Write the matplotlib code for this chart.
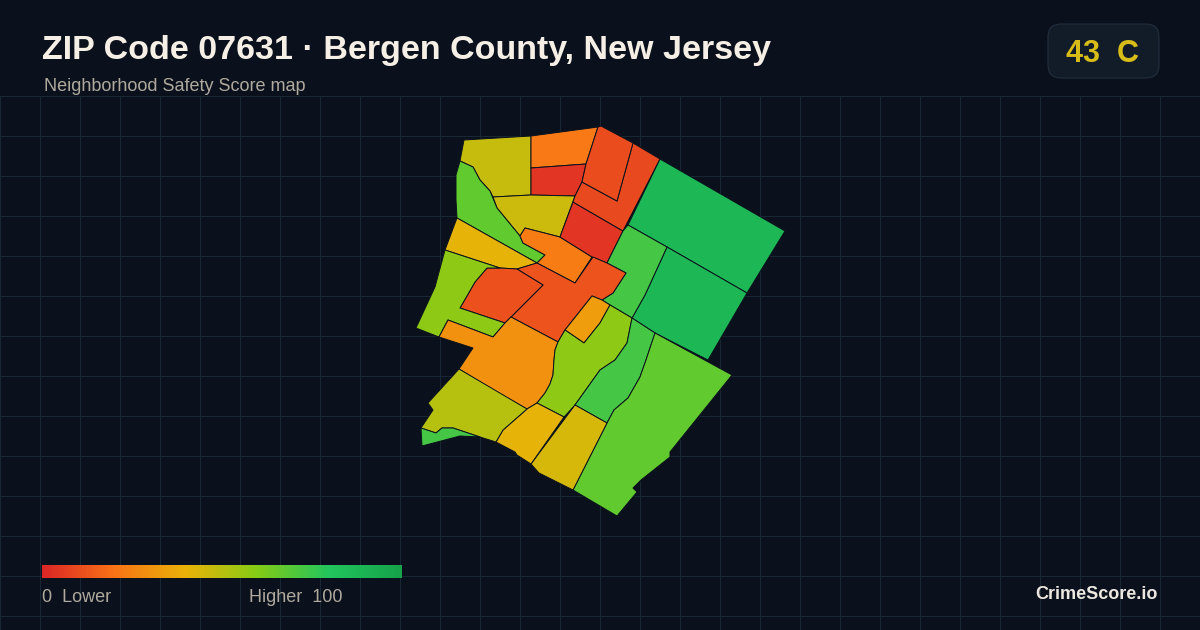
import numpy as np
import matplotlib
matplotlib.use('Agg')
import matplotlib.pyplot as plt
from matplotlib.collections import PolyCollection
from matplotlib.colors import LinearSegmentedColormap
from matplotlib.patches import FancyBboxPatch

plt.rcParams['font.family'] = ['Liberation Sans', 'DejaVu Sans']

# tract outlines (pixel positions of the map)
tract_shapes = [
    [(464,140),(531,136),(531,195),(493,197),(490,191),(480,180),(473,167),(460,161)],
    [(531,136),(598,127),(586,164),(531,168)],
    [(531,168),(586,164),(582,182),(575,196),(531,195)],
    [(493,197),(531,195),(575,196),(560,237),(525,228),(520,236),(497,208)],
    [(460,161),(473,167),(480,180),(490,191),(497,208),(520,236),(523,243),(545,255),(537,263),(457,218),(456,200),(456,175)],
    [(457,218),(537,263),(517,269),(500,268),(445,250)],
    [(525,228),(560,237),(592,257),(575,283),(537,263),(545,255),(523,243),(520,236)],
    [(573,202),(623,231),(607,263),(592,257),(560,237)],
    [(582,182),(617,201),(633,143),(660,159),(623,231),(573,202),(575,196)],
    [(601,126),(633,143),(617,201),(582,182),(586,164),(598,127)],
    [(660,159),(785,231),(747,293),(667,247),(628,225)],
    [(667,247),(747,293),(708,360),(655,333),(632,318),(645,295)],
    [(623,231),(628,225),(667,247),(645,295),(632,318),(610,305),(602,300),(613,293),(626,273),(607,263)],
    [(517,269),(537,263),(575,283),(593,257),(607,263),(626,273),(613,293),(602,300),(592,296),(565,330),(558,342),(511,317),(543,285)],
    [(487,268),(500,268),(517,269),(543,285),(505,323),(460,308),(475,282)],
    [(445,250),(500,268),(487,268),(475,282),(460,308),(505,323),(493,337),(448,320),(439,337),(416,328),(435,287)],
    [(439,337),(448,320),(493,337),(505,323),(511,317),(558,342),(555,350),(554,360),(553,375),(550,384),(545,393),(537,403),(527,409),(493,390),(459,369),(473,348)],
    [(592,296),(602,300),(610,305),(600,323),(584,343),(565,330)],
    [(565,330),(584,343),(600,323),(610,305),(632,318),(627,343),(615,360),(600,370),(575,405),(564,417),(537,403),(545,393),(550,384),(553,375),(554,360),(555,350),(558,342)],
    [(632,318),(655,333),(646,360),(640,377),(628,398),(614,410),(607,423),(575,405),(600,370),(615,360),(627,343)],
    [(655,333),(732,375),(670,452),(670,457),(641,480),(633,488),(637,492),(617,516),(573,490),(607,423),(614,410),(628,398),(640,377),(646,360)],
    [(575,405),(607,423),(573,490),(539,473),(531,464)],
    [(537,403),(564,417),(531,464),(517,455),(515,452),(496,442),(503,430),(527,409)],
    [(459,369),(527,409),(503,430),(496,442),(480,437),(453,428),(442,428),(436,433),(421,428),(433,410),(428,403)],
    [(421,428),(436,433),(442,428),(453,428),(480,437),(460,436),(422,446)],
]
tract_scores = [47, 22, 4, 46, 67, 41, 23, 4, 9, 10, 88, 88, 73, 12, 11, 58, 29, 33, 58, 73, 67, 44, 41, 50, 73]

score_stops = [0.0, 0.2, 0.4, 0.6, 0.8, 1.0]
stop_colors = ['#dc2626', '#f97316', '#eab308', '#84cc16', '#22c55e', '#16a34a']

grid_x = np.arange(0, 1201, 40)
grid_y = np.arange(96, 617, 40)

cmap = LinearSegmentedColormap.from_list('safety', list(zip(score_stops, stop_colors)))

fig = plt.figure(figsize=(12, 6.3), dpi=100, facecolor='#0a111c')
ax = fig.add_axes([0, 0, 1, (630 - 96) / 630])
ax.set_facecolor('#0a111c')
for s in ax.spines.values():
    s.set_visible(False)

pc = PolyCollection(tract_shapes, array=np.array(tract_scores), cmap=cmap, clim=(0, 100),
                    edgecolors='#0a111c', linewidths=0.7, zorder=3)
ax.add_collection(pc)

# legend bar
ax.imshow(np.linspace(0, 1, 360).reshape(1, -1), cmap=cmap, extent=(42, 402, 578, 565),
          aspect='auto', zorder=3)

ax.set_xlim(0, 1200)
ax.set_ylim(630, 96)
ax.set_xticks(grid_x)
ax.set_yticks(grid_y)
ax.tick_params(length=0, labelbottom=False, labelleft=False)
ax.grid(True, color='#182733', linewidth=0.72, zorder=1)
ax.set_axisbelow(True)

ax.text(42, 59, 'ZIP Code 07631 · Bergen County, New Jersey', color='#f5efe6', fontsize=24.5,
        fontweight='bold', clip_on=False)
ax.text(44, 91, 'Neighborhood Safety Score map', color='#b0aa9e', fontsize=13, clip_on=False)

badge = FancyBboxPatch((1060, 36), 87, 30, boxstyle='round,pad=12,rounding_size=13',
                       facecolor='#111c28', edgecolor='#243040', linewidth=0.72, clip_on=False, zorder=4)
ax.add_patch(badge)
ax.text(1103, 62, '43  C', color='#d8bc18', fontsize=22, fontweight='bold', ha='center',
        clip_on=False, zorder=5)

ax.text(42, 602, '0  Lower', color='#b0aa9e', fontsize=13, zorder=5)
ax.text(249, 602, 'Higher  100', color='#b0aa9e', fontsize=13, zorder=5)
ax.text(1158, 599, 'CrimeScore.io', color='#ede8e0', fontsize=13, fontweight='bold', ha='right', zorder=5)

fig.savefig('out.png', dpi=100, facecolor=fig.get_facecolor())
